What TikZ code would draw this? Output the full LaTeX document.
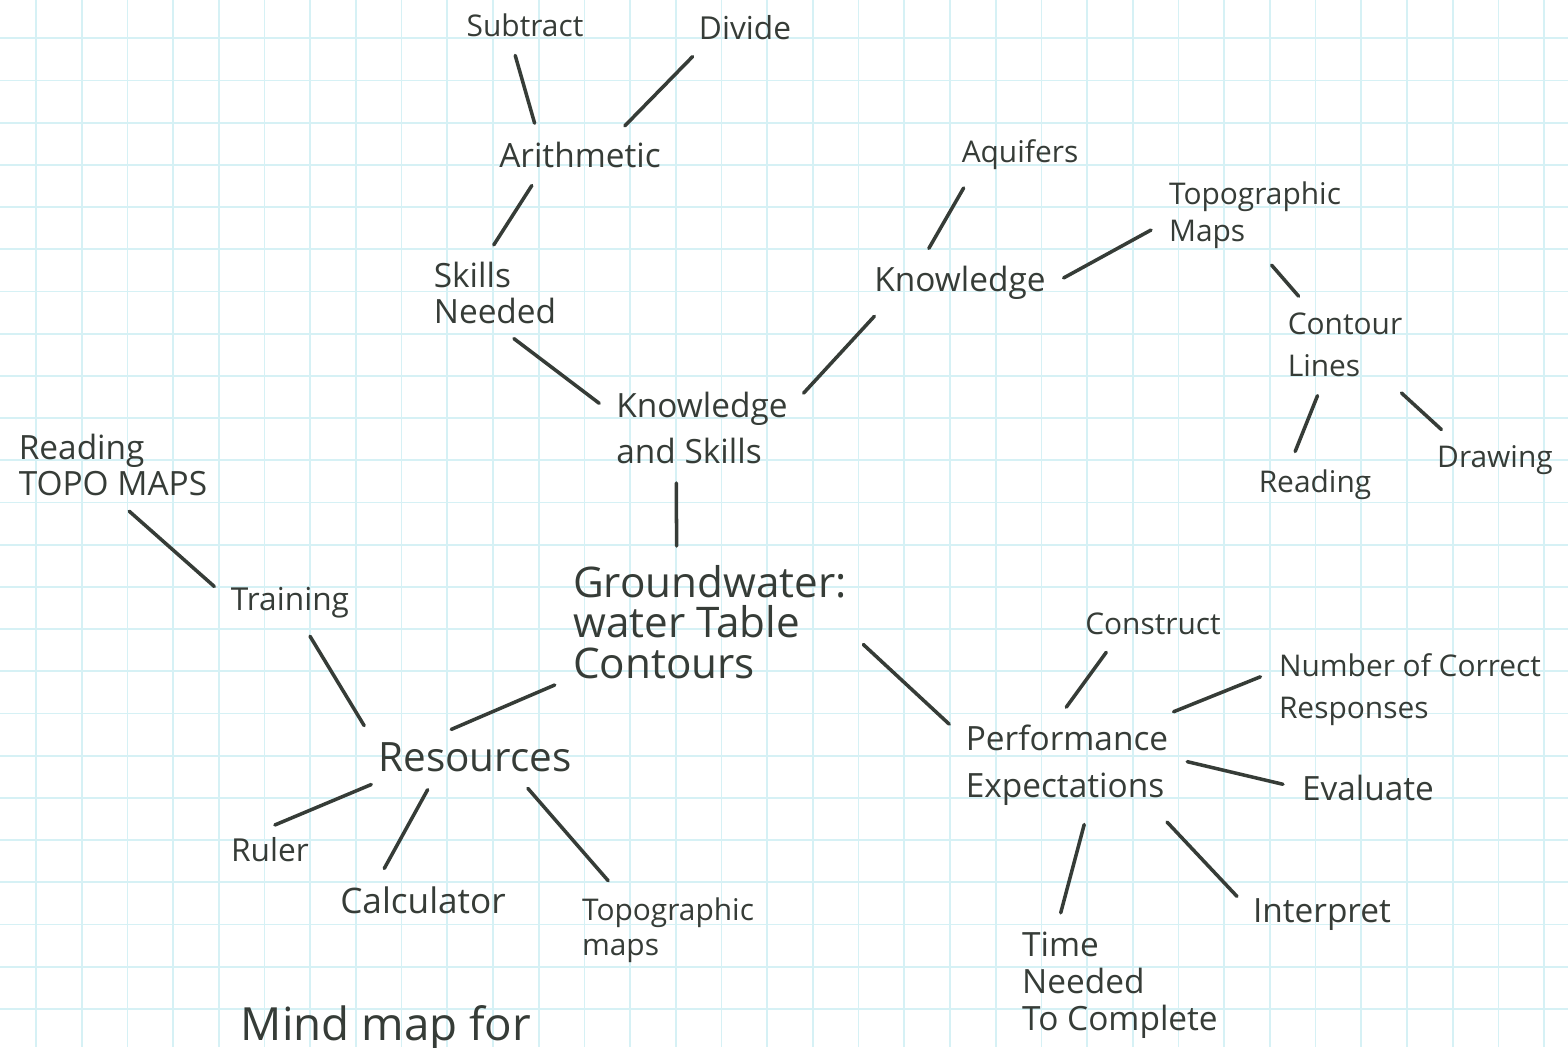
\documentclass[tikz,border=0pt]{standalone}
\usepackage{fontspec}
\setmainfont{Open Sans}
\definecolor{ink}{HTML}{363C37}
\definecolor{paperblue}{HTML}{D6F1F5}

\begin{document}
\begin{tikzpicture}[x=0.01cm,y=-0.01cm,line width=1pt,
  leaf/.style={text=ink,inner sep=2pt,align=left,font=\fontsize{8.5}{10.5}\selectfont},
  idea/.style={leaf,font=\fontsize{9.5}{13}\selectfont},
  topic/.style={leaf,font=\fontsize{11.5}{13}\selectfont},
  paperline/.style={paperblue,line width=0.5pt},
  link/.style={draw=ink,line cap=round,shorten <=3pt,shorten >=3pt}]
\useasboundingbox (0,0) rectangle (1568,1047);
\clip (0,0) rectangle (1568,1047);
% ---------- squared paper ----------
\fill[white] (0,0) rectangle (1568,1047);
\foreach \i in {0,...,35}{
  \draw[paperline] ({-9.7+45.7*\i},0) -- ({-9.7+45.7*\i},1047);
}
\foreach \j in {0,...,25}{
  \draw[paperline] (0,{-3.9+42.2*\j}) -- (1568,{-3.9+42.2*\j});
}
% ---------- centre ----------
\node[leaf,font=\fontsize{12}{11.5}\selectfont] (gwt) at (710,622) {Groundwater:\\water Table\\Contours};
% ---------- knowledge and skills ----------
\node[idea] (kas) at (702,428) {Knowledge\\and Skills};
\node[idea,font=\fontsize{9.5}{10}\selectfont] (skl) at (495,293) {Skills\\Needed};
\node[idea] (ari) at (580,155) {Arithmetic};
\node[leaf] (sub) at (525,25) {Subtract};
\node[leaf,font=\fontsize{9}{10}\selectfont] (div) at (745,28) {Divide};
\node[idea] (knw) at (960,283) {Knowledge};
\node[leaf] (aqu) at (1020,155) {Aquifers};
\node[leaf] (tpm) at (1255,215) {Topographic\\Maps};
\node[leaf,font=\fontsize{8.5}{12}\selectfont] (ctl) at (1345,345) {Contour\\Lines};
\node[leaf] (rdg) at (1315,485) {Reading};
\node[leaf] (drw) at (1495,460) {Drawing};
% ---------- resources ----------
\node[topic] (res) at (475,757) {Resources};
\node[leaf,font=\fontsize{9}{10}\selectfont] (trn) at (290,603) {Training};
\node[leaf,font=\fontsize{9.5}{10}\selectfont] (rtm) at (113,465) {Reading\\TOPO MAPS};
\node[leaf,font=\fontsize{9}{10}\selectfont] (rul) at (270,850) {Ruler};
\node[idea,font=\fontsize{10}{12}\selectfont] (cal) at (423,900) {Calculator};
\node[leaf,font=\fontsize{8.5}{10}\selectfont] (tpb) at (668,930) {Topographic\\maps};
% ---------- performance expectations ----------
\node[idea,font=\fontsize{9.5}{13.5}\selectfont] (pex) at (1067,765) {Performance\\Expectations};
\node[leaf,font=\fontsize{8.5}{10}\selectfont] (cns) at (1153,624) {Construct};
\node[leaf,font=\fontsize{8.5}{12}\selectfont] (ncr) at (1410,690) {Number of Correct\\Responses};
\node[leaf,font=\fontsize{9.5}{10}\selectfont] (evl) at (1368,788) {Evaluate};
\node[leaf,font=\fontsize{9.5}{10}\selectfont] (itp) at (1322,915) {Interpret};
\node[leaf,font=\fontsize{9.5}{10.5}\selectfont] (tnc) at (1120,985) {Time\\Needed\\To Complete};
% title at the foot of the page
\node[leaf,font=\fontsize{13}{15}\selectfont,anchor=base west] (mmf) at (232,1040) {Mind map for};
% ---------- links ----------
\draw[link] (sub.-122) -- (ari.153);
\draw[link] (div.-155) -- (ari.30);
\draw[link] (ari.-153) -- (skl.100);
\draw[link] (skl.-75) -- (kas.169);
\draw[link] (kas.16) -- (knw.-162);
\draw[link] (knw.145) -- (aqu.-155);
\draw[link] (knw.0) -- (tpm.-174);
\draw[link] (tpm.-77) -- (ctl.134);
\draw[link] (ctl.-120) -- (rdg.135);
\draw[link] (ctl.-40) -- (drw.153);
\draw[link] (kas.-120) -- (gwt.117);
\draw[link] (gwt.-158) -- (res.145);
\draw[link] (gwt.-6) -- (pex.163);
\draw[link] (rtm.-78) -- (trn.172);
\draw[link] (trn.-59) -- (res.168);
\draw[link] (res.-166) -- (rul.103);
\draw[link] (res.-151) -- (cal.153);
\draw[link] (res.-27) -- (tpb.142);
\draw[link] (pex.98) -- (cns.-154);
\draw[link] (pex.27) -- (ncr.173);
\draw[link] (pex.3) -- (evl.179);
\draw[link] (pex.-28) -- (itp.172);
\draw[link] (pex.-68) -- (tnc.135);
\end{tikzpicture}
\end{document}
